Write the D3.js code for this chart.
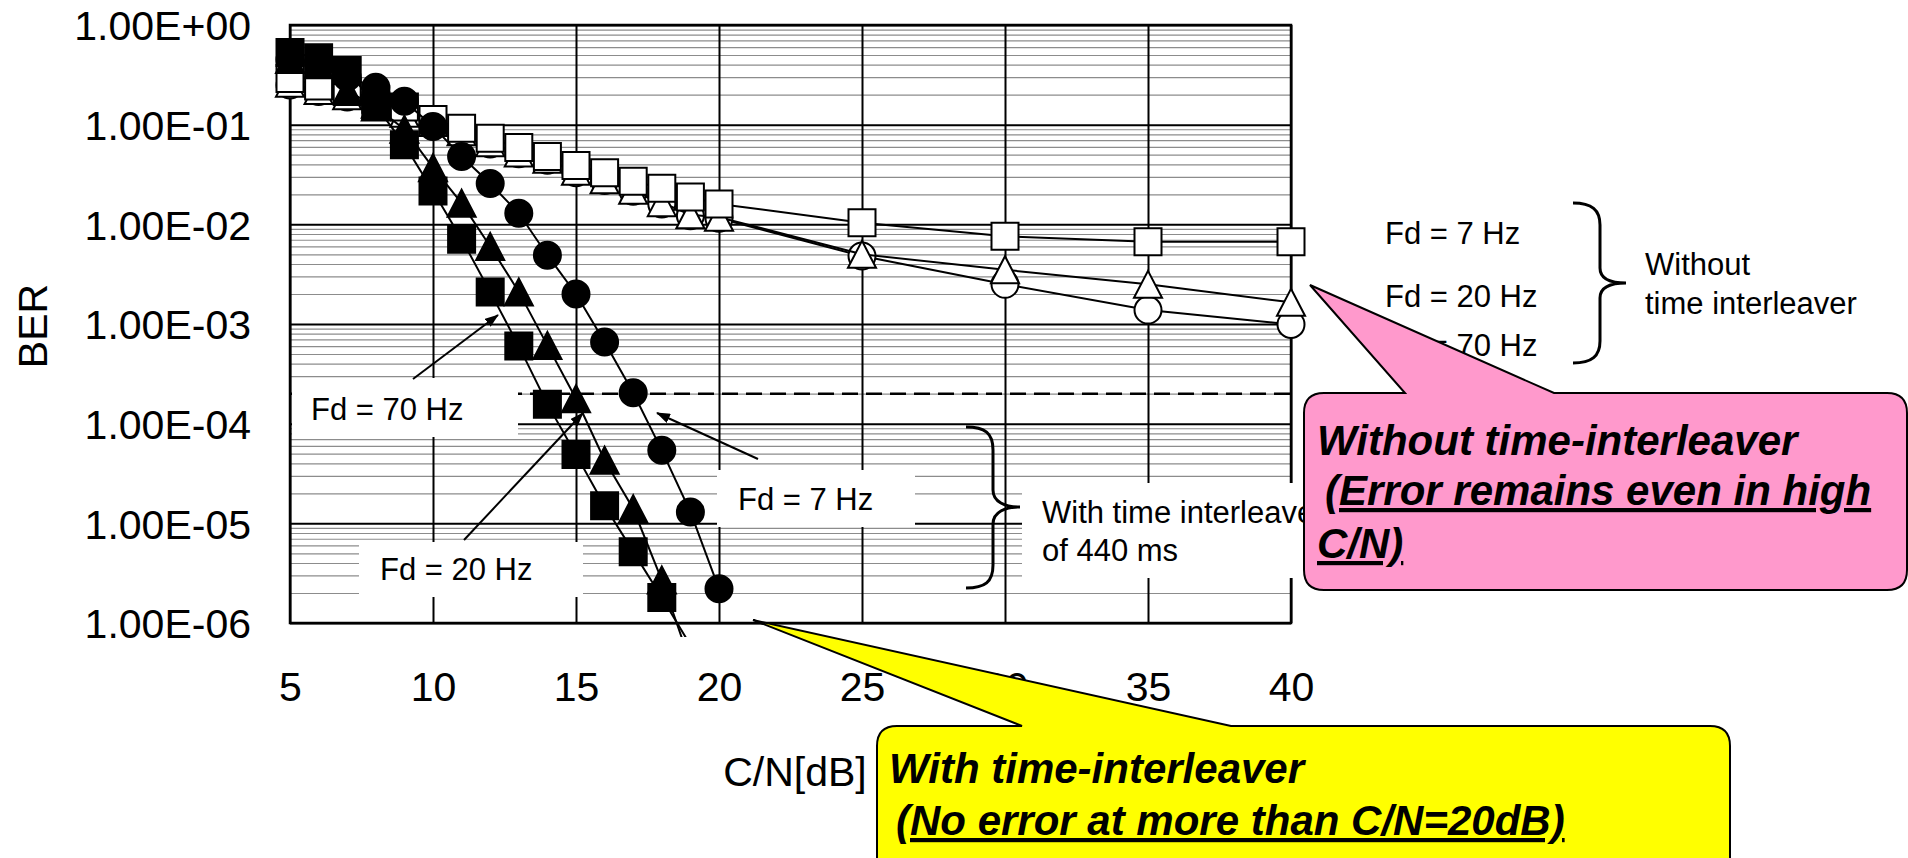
<!DOCTYPE html>
<html>
<head>
<meta charset="utf-8">
<script src="https://cdn.jsdelivr.net/npm/d3@7"></script>
<style>
  body { margin: 0; background: #fff; }
  svg { display: block; font-family: "Liberation Sans", Arial, sans-serif; }
</style>
</head>
<body>
<svg id="chart"></svg>
<script>
// BER vs C/N - with / without time interleaver
const width = 1908;
const height = 858;

// C/N points [dB]
const cnWith = [5, 6, 7, 8, 9, 10, 11, 12, 13, 14, 15, 16, 17, 18, 19, 20];
const cnWithout = [5, 6, 7, 8, 9, 10, 11, 12, 13, 14, 15, 16, 17, 18, 19, 20, 25, 30, 35, 40];

// With time interleaver of 440 ms (filled markers)
const withFd7 = [0.45, 0.42, 0.30, 0.237, 0.172, 0.096, 0.048, 0.0257, 0.0129, 0.0049,
                 0.0020, 6.6e-4, 2.04e-4, 5.4e-5, 1.3e-5, 2.2e-6];
const withFd20 = [0.45, 0.40, 0.22, 0.15, 0.09, 0.037, 0.0163, 0.006, 0.0021, 6.1e-4,
                  1.78e-4, 4.3e-5, 1.4e-5, 2.7e-6, 4e-7];
const withFd70 = [0.53, 0.47, 0.35, 0.155, 0.063, 0.0216, 0.0071, 0.0021, 6.0e-4, 1.57e-4,
                  4.9e-5, 1.5e-5, 5.2e-6, 1.8e-6, 6e-7];

// Without time interleaver (open markers)
const withoutFd7 = [0.29, 0.245, 0.215, 0.18, 0.15, 0.113, 0.092, 0.073, 0.059, 0.048,
                    0.039, 0.033, 0.027, 0.023, 0.0188, 0.016, 0.0104, 0.0076, 0.0067, 0.0067];
const withoutFd20 = [0.26, 0.22, 0.195, 0.16, 0.13, 0.105, 0.085, 0.066, 0.052, 0.045,
                     0.034, 0.028, 0.022, 0.0165, 0.0125, 0.0118, 0.005, 0.0035, 0.0025, 0.00165];
const withoutFd70 = [0.25, 0.215, 0.19, 0.156, 0.127, 0.102, 0.083, 0.064, 0.051, 0.044,
                     0.033, 0.0275, 0.0215, 0.016, 0.0122, 0.0115, 0.0048, 0.0025, 0.00138, 0.00099];

const xTicks = [5, 10, 15, 20, 25, 30, 35, 40];
const yTicks = [1, 1e-1, 1e-2, 1e-3, 1e-4, 1e-5, 1e-6];
const berLimit = 2e-4; // dashed reference level

const plot = { left: 290, right: 1291, top: 25, bottom: 623 };
const plotW = plot.right - plot.left;
const plotH = plot.bottom - plot.top;

const svg = d3.select("#chart")
    .attr("width", width)
    .attr("height", height);

svg.append("rect").attr("width", width).attr("height", height).attr("fill", "#fff");

const x = d3.scaleLinear().domain([5, 40]).range([plot.left, plot.right]);
const y = d3.scaleLog().domain([1, 1e-6]).range([plot.top, plot.bottom]);

// --- grid ---
const minorTicks = y.ticks().filter(v => !yTicks.some(t => Math.abs(t - v) / t < 1e-6));

svg.append("g")
    .attr("transform", `translate(${plot.left},0)`)
    .call(d3.axisLeft(y).tickValues(minorTicks).tickSize(-plotW).tickFormat(""))
    .call(g => g.select(".domain").remove())
    .selectAll("line")
    .attr("stroke", "#8c8c8c")
    .attr("stroke-width", 1.2);

svg.append("g")
    .attr("transform", `translate(${plot.left},0)`)
    .call(d3.axisLeft(y).tickValues(yTicks).tickSize(-plotW).tickFormat(""))
    .call(g => g.select(".domain").remove())
    .selectAll("line")
    .attr("stroke", "#000")
    .attr("stroke-width", 2);

svg.append("g")
    .attr("transform", `translate(0,${plot.bottom})`)
    .call(d3.axisBottom(x).tickValues(xTicks).tickSize(-plotH).tickFormat(""))
    .call(g => g.select(".domain").remove())
    .selectAll("line")
    .attr("stroke", "#000")
    .attr("stroke-width", 2);

// dashed BER limit
svg.append("line")
    .attr("x1", plot.left).attr("x2", plot.right)
    .attr("y1", y(berLimit)).attr("y2", y(berLimit))
    .attr("stroke", "#000")
    .attr("stroke-width", 2.5)
    .attr("stroke-dasharray", "16,8");

// plot frame
svg.append("rect")
    .attr("x", plot.left).attr("y", plot.top)
    .attr("width", plotW).attr("height", plotH)
    .attr("fill", "none")
    .attr("stroke", "#000")
    .attr("stroke-width", 2.5);

// --- tick labels ---
const sciFormat = v => {
    const e = Math.round(Math.log10(v));
    return "1.00E" + (e < 0 ? "-" : "+") + String(Math.abs(e)).padStart(2, "0");
};

const yAxisG = svg.append("g")
    .attr("transform", `translate(${plot.left},0)`)
    .call(d3.axisLeft(y).tickValues(yTicks).tickSize(0).tickPadding(39).tickFormat(sciFormat));
yAxisG.select(".domain").remove();
yAxisG.selectAll("text")
    .attr("font-family", "Liberation Sans, Arial, sans-serif")
    .attr("font-size", 41)
    .attr("fill", "#000")
    .attr("dy", "0.36em");

const xAxisG = svg.append("g")
    .attr("transform", `translate(0,${plot.bottom})`)
    .call(d3.axisBottom(x).tickValues(xTicks).tickSize(0).tickPadding(49).tickFormat(d3.format("d")));
xAxisG.select(".domain").remove();
xAxisG.selectAll("text")
    .attr("font-family", "Liberation Sans, Arial, sans-serif")
    .attr("font-size", 41)
    .attr("fill", "#000");

svg.append("text")
    .attr("transform", "translate(47,326) rotate(-90)")
    .attr("text-anchor", "middle")
    .attr("font-size", 41)
    .text("BER");

svg.append("text")
    .attr("x", 795).attr("y", 786)
    .attr("text-anchor", "middle")
    .attr("font-size", 41)
    .text("C/N[dB]");

// --- in-plot labels on white boxes ---
const labelGroup = svg.append("g");
const whiteBoxes = [
    [292, 378, 226, 59],
    [359, 542, 224, 55],
    [717, 470, 198, 57],
    [1022, 483, 290, 95]
];
whiteBoxes.forEach(b => {
    labelGroup.append("rect")
        .attr("x", b[0]).attr("y", b[1]).attr("width", b[2]).attr("height", b[3])
        .attr("fill", "#fff");
});

const labelText = [
    ["Fd = 70 Hz", 311, 420],
    ["Fd = 20 Hz", 380, 580],
    ["Fd = 7 Hz", 738, 510],
    ["With time interleaver", 1042, 523],
    ["of 440 ms", 1042, 561]
];
labelText.forEach(t => {
    labelGroup.append("text")
        .attr("x", t[1]).attr("y", t[2])
        .attr("font-size", 31)
        .text(t[0]);
});

// arrows
svg.append("defs").append("marker")
    .attr("id", "arrowHead")
    .attr("viewBox", "0 0 14 10")
    .attr("refX", 13).attr("refY", 5)
    .attr("markerWidth", 14).attr("markerHeight", 10)
    .attr("markerUnits", "userSpaceOnUse")
    .attr("orient", "auto")
    .append("path")
    .attr("d", "M0,0 L14,5 L0,10 Z")
    .attr("fill", "#000");

const arrows = [
    [413, 379, 498, 315],
    [464, 540, 583, 413],
    [758, 459, 657, 413]
];
arrows.forEach(a => {
    svg.append("line")
        .attr("x1", a[0]).attr("y1", a[1]).attr("x2", a[2]).attr("y2", a[3])
        .attr("stroke", "#000")
        .attr("stroke-width", 2)
        .attr("marker-end", "url(#arrowHead)");
});

// --- data series ---
const boxTriangle = {
    draw(ctx, size) {
        const h = Math.sqrt(size) / 2;
        ctx.moveTo(0, -h);
        ctx.lineTo(h * 1.04, h);
        ctx.lineTo(-h * 1.04, h);
        ctx.closePath();
    }
};
const shapes = {
    square: d3.symbol().type(d3.symbolSquare).size(27 * 27),
    circle: d3.symbol().type(d3.symbolCircle).size(Math.PI * 13.5 * 13.5),
    triangle: d3.symbol().type(boxTriangle).size(27 * 27)
};

const series = [
    { cn: cnWithout, ber: withoutFd70, shape: "circle", filled: false },
    { cn: cnWithout, ber: withoutFd20, shape: "triangle", filled: false },
    { cn: cnWithout, ber: withoutFd7, shape: "square", filled: false },
    { cn: cnWith, ber: withFd70, shape: "square", filled: true },
    { cn: cnWith, ber: withFd20, shape: "triangle", filled: true },
    { cn: cnWith, ber: withFd7, shape: "circle", filled: true }
];

svg.select("defs").append("clipPath")
    .attr("id", "lineClip")
    .append("rect")
    .attr("x", 0).attr("y", 0)
    .attr("width", width).attr("height", plot.bottom + 14);

const line = d3.line()
    .x(d => x(d.cn))
    .y(d => y(d.ber));

const seriesGroup = svg.append("g");
series.forEach(s => {
    const pts = s.ber.map((b, i) => ({ cn: s.cn[i], ber: b }));
    const g = seriesGroup.append("g");
    g.append("path")
        .datum(pts)
        .attr("d", line)
        .attr("fill", "none")
        .attr("stroke", "#000")
        .attr("stroke-width", 2)
        .attr("clip-path", "url(#lineClip)");
    g.selectAll(".mark")
        .data(pts.filter(d => d.ber >= 1e-6))
        .enter()
        .append("path")
        .attr("class", "mark")
        .attr("transform", d => `translate(${x(d.cn)},${y(d.ber)})`)
        .attr("d", shapes[s.shape])
        .attr("fill", s.filled ? "#000" : "#fff")
        .attr("stroke", "#000")
        .attr("stroke-width", 2);
});

// --- braces and right-hand legend text ---
const braces = [
    "M966,427 C985,427 993,433 993,450 L993,490 C993,502 1005,507 1020,507 C1005,507 993,512 993,524 L993,565 C993,582 985,588 966,588",
    "M1573,203 C1592,203 1600,210 1600,225 L1600,268 C1600,279 1610,283 1626,283 C1610,283 1600,287 1600,298 L1600,341 C1600,356 1592,363 1573,363"
];
braces.forEach(d => {
    svg.append("path")
        .attr("d", d)
        .attr("fill", "none")
        .attr("stroke", "#000")
        .attr("stroke-width", 3);
});

const legendText = [
    ["Fd = 7 Hz", 1385, 244],
    ["Fd = 20 Hz", 1385, 307],
    ["Fd = 70 Hz", 1385, 356],
    ["Without", 1645, 275],
    ["time interleaver", 1645, 314]
];
legendText.forEach(t => {
    svg.append("text")
        .attr("x", t[1]).attr("y", t[2])
        .attr("font-size", 31)
        .text(t[0]);
});

// --- callouts ---
function callout(path, fill, lines) {
    const g = svg.append("g");
    g.append("path")
        .attr("d", path)
        .attr("fill", fill)
        .attr("stroke", "#000")
        .attr("stroke-width", 2);
    lines.forEach(l => {
        g.append("text")
            .attr("x", l[1]).attr("y", l[2])
            .attr("font-size", 42)
            .attr("font-weight", "bold")
            .attr("font-style", "italic")
            .attr("text-decoration", l[3] ? "underline" : null)
            .text(l[0]);
    });
}

callout(
    "M1324,393 L1405,393 L1310,285 L1554,393 L1887,393 Q1907,393 1907,413 L1907,570 Q1907,590 1887,590 L1324,590 Q1304,590 1304,570 L1304,413 Q1304,393 1324,393 Z",
    "#ff99cc",
    [
        ["Without time-interleaver", 1317, 455, false],
        ["(Error remains even in high", 1325, 505, true],
        ["C/N)", 1317, 558, true]
    ]
);

callout(
    "M897,726 L1022,726 L753,620 L1231,726 L1710,726 Q1730,726 1730,746 L1730,900 L877,900 L877,746 Q877,726 897,726 Z",
    "#ffff00",
    [
        ["With time-interleaver", 889, 783, false],
        ["(No error at more than C/N=20dB)", 896, 835, true]
    ]
);
</script>
</body>
</html>
